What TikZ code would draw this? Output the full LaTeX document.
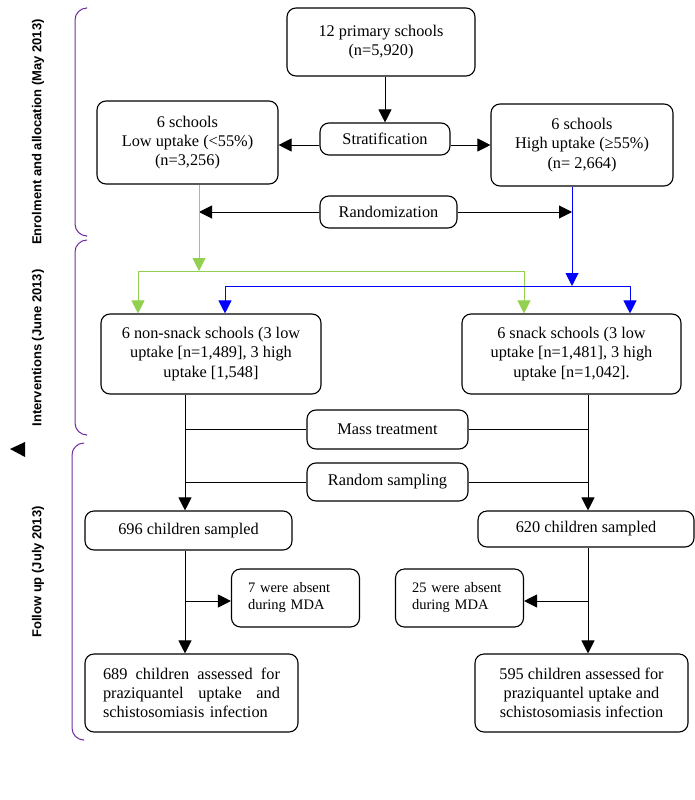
\documentclass[tikz,border=0pt]{standalone}
\usepackage{fontspec}
\setmainfont{Liberation Serif}
\newfontfamily\phasefont{Liberation Sans}
\usetikzlibrary{arrows.meta}
\definecolor{lowgreen}{RGB}{146,208,80}
\definecolor{highblue}{RGB}{0,0,255}
\definecolor{phasepurple}{RGB}{112,48,160}
\newcommand{\fullline}[1]{\leavevmode\hbox to 177pt{#1}}

\begin{document}
\begin{tikzpicture}[x=1pt,y=-1pt,
    stagebox/.style={draw, rounded corners=9pt, line width=1.1pt, align=center,
        inner sep=2pt, font=\fontsize{16.3}{19.3}\selectfont},
    absentbox/.style={draw, rounded corners=9pt, line width=1.1pt, align=left,
        text width=95pt, inner xsep=16.5pt, minimum height=58pt,
        font=\fontsize{14.5}{17}\selectfont},
    phaselabel/.style={rotate=90, font=\phasefont\bfseries\fontsize{13}{15}\selectfont},
    link/.style={line width=1pt, -{Triangle[length=13pt,width=13pt]}},
    joint/.style={line width=1pt}]
    \useasboundingbox (0,0) rectangle (695,800);

    % phase brackets and labels
    \foreach \ytop/\ybot/\xx in {8/236/75, 240/435/75, 443/740/72}{
        \draw[phasepurple, line width=1pt, rounded corners=12pt]
            (\xx+11,\ytop) -- (\xx,\ytop) -- (\xx,\ybot) -- (\xx+11,\ybot);
    }
    \node[phaselabel] (enrol) at (38,132) {Enrolment and allocation (May 2013)};
    \node[phaselabel] (interv) at (38,348) {Interventions (June 2013)};
    \node[phaselabel] (follow) at (38,572) {Follow up (July 2013)};
    \fill (10,449) -- (25,442) -- (25,457) -- cycle;

    % enrolment and allocation
    \node[stagebox, minimum width=188pt, minimum height=68pt] (schools) at (381,42)
        {12 primary schools\\(n=5,920)};
    \node[stagebox, minimum width=130pt, minimum height=32pt] (strat) at (385,139)
        {Stratification};
    \node[stagebox, minimum width=181pt, minimum height=83pt] (low) at (187.5,142.5)
        {6 schools\\Low uptake (<55\%)\\(n=3,256)};
    \node[stagebox, minimum width=182pt, minimum height=82pt] (high) at (582,145)
        {6 schools\\High uptake (≥55\%)\\(n= 2,664)};
    \node[stagebox, minimum width=137pt, minimum height=32pt] (rand) at (388.5,212)
        {Randomization};

    % interventions
    \node[stagebox, minimum width=220pt, minimum height=80pt] (nonsnack) at (211,354)
        {6 non-snack schools (3 low\\uptake [n=1,489], 3 high\\uptake [1,548]};
    \node[stagebox, minimum width=219pt, minimum height=80pt] (snack) at (571.5,354)
        {6 snack schools (3 low\\uptake [n=1,481], 3 high\\uptake [n=1,042].};
    \node[stagebox, minimum width=161pt, minimum height=39pt] (mass) at (387.5,429.5)
        {Mass treatment};
    \node[stagebox, minimum width=161pt, minimum height=38pt] (rsamp) at (387.5,482)
        {Random sampling};

    % follow up
    \node[stagebox, minimum width=207pt, minimum height=39pt] (sampL) at (188.5,530.5)
        {696 children sampled};
    \node[stagebox, minimum width=216pt, minimum height=36pt] (sampR) at (586,529)
        {620 children sampled};
    \node[absentbox] (absL) at (295.5,598) {7 were absent\\during MDA};
    \node[absentbox] (absR) at (459.5,598) {25 were absent\\during MDA};
    \node[stagebox, minimum width=213pt, minimum height=78pt, text width=177pt,
        align=left] (assL) at (191.5,693)
        {\fullline{689\hfill children\hfill assessed\hfill for}\\
         \fullline{praziquantel\hfill uptake\hfill and}\\
         schistosomiasis infection};
    \node[stagebox, minimum width=213pt, minimum height=78pt] (assR) at (581.5,693)
        {595 children assessed for\\praziquantel uptake and\\schistosomiasis infection};

    % split points and spines
    \coordinate (gsplit) at (199,271);
    \coordinate (bsplit) at (572,286);
    \coordinate (gL) at (138,0);
    \coordinate (gR) at (524,0);
    \coordinate (bL) at (225,0);
    \coordinate (bR) at (630,0);
    \coordinate (spineL) at (185,0);
    \coordinate (spineR) at (588,0);

    % allocation arrows
    \draw[link] (schools.south -| strat) -- (strat.north);
    \draw[link] ([yshift=-6pt]strat.west) -- ([yshift=-6pt]strat.west -| low.east);
    \draw[link] ([yshift=-6pt]strat.east) -- ([yshift=-6pt]strat.east -| high.west);
    \draw[link] (rand.west) -- (rand.west -| gsplit);
    \draw[link] (rand.east) -- (rand.east -| bsplit);

    % randomized arms
    \draw[link, lowgreen] (low.south -| gsplit) -- (gsplit);
    \draw[link, lowgreen] (gsplit) -| (gL |- nonsnack.north);
    \draw[link, lowgreen] (gsplit) -| (gR |- snack.north);
    \draw[link, highblue] (high.south -| bsplit) -- (bsplit);
    \draw[link, highblue] (bsplit) -| (bL |- nonsnack.north);
    \draw[link, highblue] (bsplit) -| (bR |- snack.north);

    % treatment and sampling
    \draw[link] (spineL |- nonsnack.south) -- (spineL |- sampL.north);
    \draw[link] (spineR |- snack.south) -- (spineR |- sampR.north);
    \draw[joint] (mass.west) -- (mass.west -| spineL);
    \draw[joint] (mass.east) -- (mass.east -| spineR);
    \draw[joint] (rsamp.west) -- (rsamp.west -| spineL);
    \draw[joint] (rsamp.east) -- (rsamp.east -| spineR);

    % follow up
    \draw[link] (spineL |- sampL.south) -- (spineL |- assL.north);
    \draw[link] (spineR |- sampR.south) -- (spineR |- assR.north);
    \draw[link] ([yshift=-3pt]absL.west -| spineL) -- ([yshift=-3pt]absL.west);
    \draw[link] ([yshift=-3pt]absR.east -| spineR) -- ([yshift=-3pt]absR.east);
\end{tikzpicture}
\end{document}
